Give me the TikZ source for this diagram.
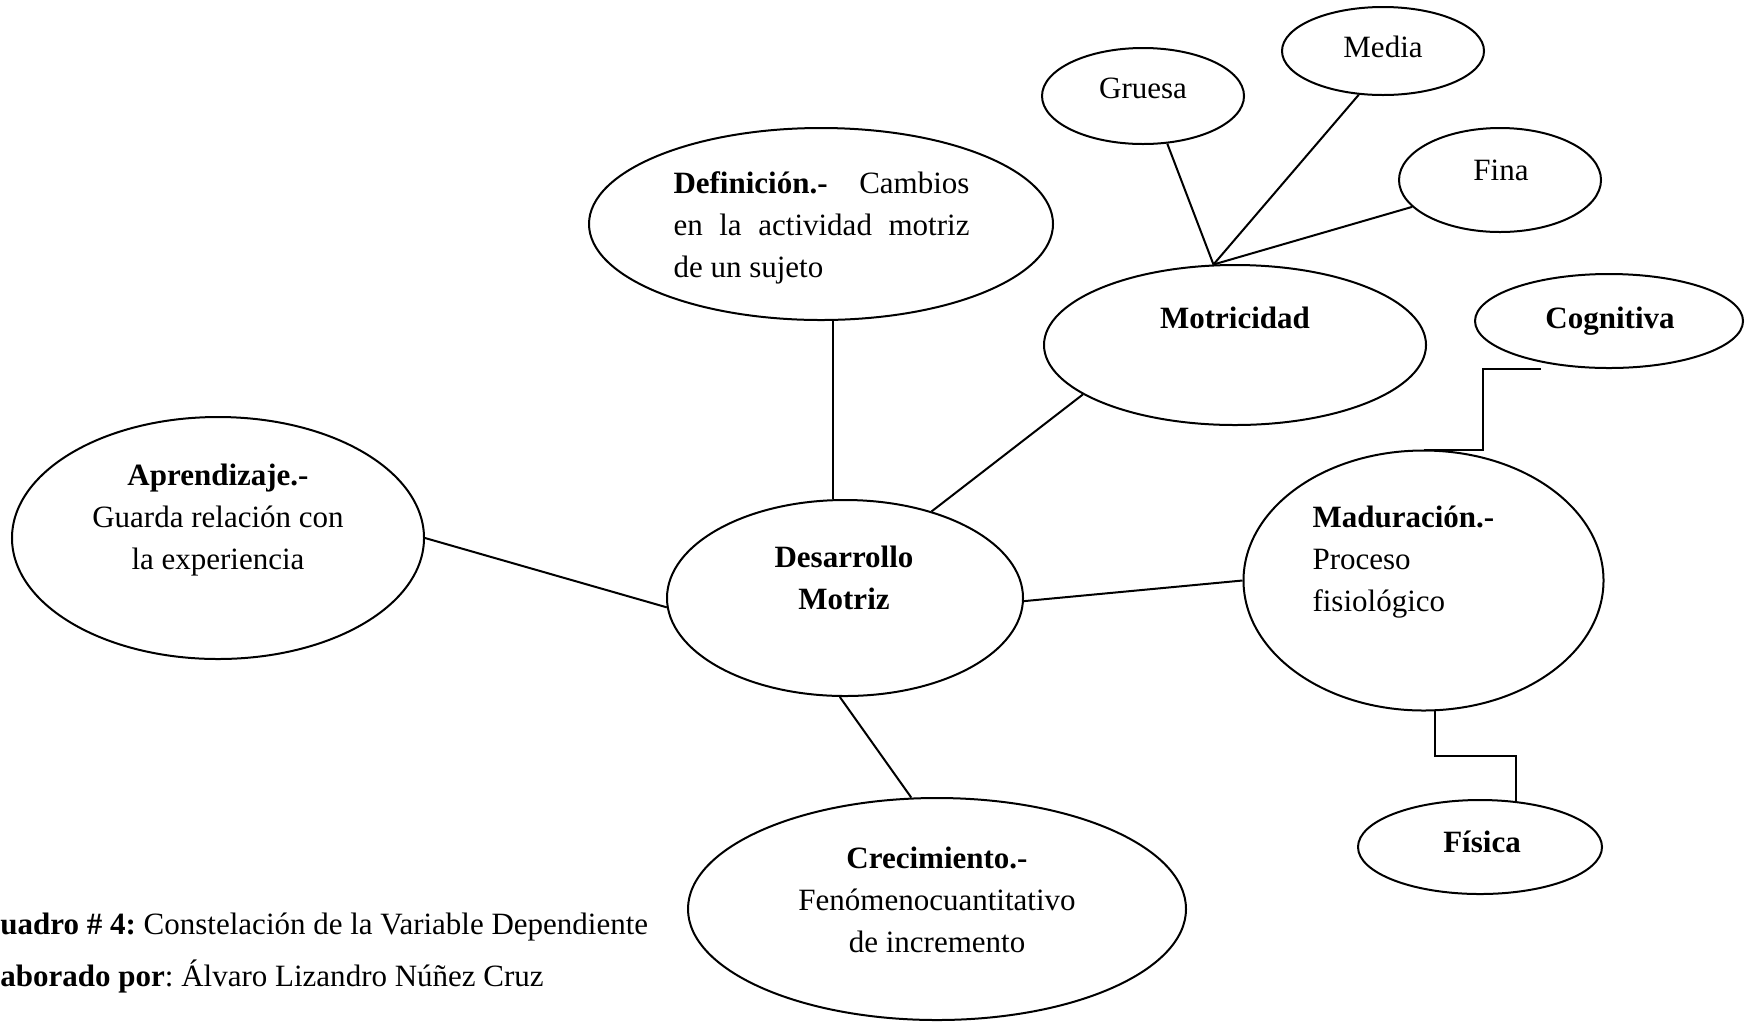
\documentclass[tikz,border=0pt]{standalone}
\usepackage{fontspec}
\setmainfont{Liberation Serif}
\usetikzlibrary{shapes.geometric}
\frenchspacing
\begin{document}
\begin{tikzpicture}[x=0.4pt,y=-0.4pt,
  bubble/.style={draw, ellipse, line width=0.8pt, inner sep=0pt},
  link/.style={line width=0.8pt},
  txt/.style={inner sep=0pt, font=\fontsize{12.4}{16.8}\selectfont},
  btxt/.style={txt, font=\fontsize{12.4}{16.8}\selectfont\bfseries}]
\useasboundingbox (0,0) rectangle (1750,1021);
\clip (0,0) rectangle (1750,1021);

% ellipses
\node[bubble, minimum width=142.4pt, minimum height=78.4pt] (des) at (845,598) {};
\node[bubble, minimum width=185.6pt, minimum height=76.8pt] (def) at (821,224) {};
\node[bubble, minimum width=164.8pt, minimum height=96.8pt] (apr) at (218,538) {};
\node[bubble, minimum width=199.2pt, minimum height=88.8pt] (cre) at (937,909) {};
\node[bubble, minimum width=144pt, minimum height=104pt] (mad) at (1423.5,580.5) {};
\node[bubble, minimum width=152.8pt, minimum height=64pt] (mot) at (1235,345) {};
\node[bubble, minimum width=107.2pt, minimum height=37.6pt] (cog) at (1609,321) {};
\node[bubble, minimum width=97.6pt, minimum height=37.6pt] (fis) at (1480,847) {};
\node[bubble, minimum width=80.8pt, minimum height=38.4pt] (gru) at (1143,96) {};
\node[bubble, minimum width=80.8pt, minimum height=35.2pt] (med) at (1383,51) {};
\node[bubble, minimum width=80.8pt, minimum height=41.6pt] (fin) at (1500,180) {};

% texts
\node[btxt, anchor=base] (destxt) at (844,567)
  {\parbox[t]{120pt}{\centering Desarrollo\\Motriz}};
\node[txt, anchor=base west] (deftxt) at (673,193)
  {\parbox[t]{118.4pt}{\makebox[118.4pt][s]{\textbf{Definición.-}\hfill Cambios}\\
   \makebox[118.4pt][s]{en\hfill la\hfill actividad\hfill motriz}\\
   de un sujeto}};
\node[txt, anchor=base] (aprtxt) at (218,485)
  {\parbox[t]{150pt}{\centering\textbf{Aprendizaje.-}\\Guarda relación con\\la experiencia}};
\node[txt, anchor=base] (cretxt) at (937,868)
  {\parbox[t]{160pt}{\centering\textbf{Crecimiento.-}\\Fenómenocuantitativo\\de incremento}};
\node[txt, anchor=base west] (madtxt) at (1312,527)
  {\parbox[t]{110pt}{\raggedright\textbf{Maduración.-}\\Proceso\\fisiológico}};
\node[btxt, anchor=base] (mottxt) at (1235,328) {Motricidad};
\node[btxt, anchor=base] (cogtxt) at (1610,328) {Cognitiva};
\node[btxt, anchor=base] (fistxt) at (1482,852) {Física};
\node[txt, anchor=base] (grutxt) at (1143,98) {Gruesa};
\node[txt, anchor=base] (medtxt) at (1383,57) {Media};
\node[txt, anchor=base] (fintxt) at (1501,180) {Fina};

% connectors from the centre
\draw[link] (des.97.6) -- (des.97.6 |- def.south);
\draw[link] (des.45.7) -- (mot.198.2);
\draw[link] (des.183.2) -- (apr.east);
\draw[link] (des.-1.3) -- (mad.west);
\draw[link] (des.267.7) -- (cre.103.7);

% kinds of motor skill
\draw[link] (gru.297.5) -- (mot.105);
\draw[link] (med.241.9) -- (mot.105);
\draw[link] (fin.197.2) -- (mot.105);

% elbow connectors of maturation
\coordinate (cogjog) at (1483,369);
\coordinate (cogfoot) at (1541,369);
\draw[link] (mad.north) -| (cogjog) -- (cogfoot);
\draw[link] (mad.275.9) -- ++(0,45) -| (fis.52);

% caption
\node[txt, anchor=base west] (cap1) at (-22.4,934)
  {\textbf{Cuadro \# 4:} Constelación de la Variable Dependiente};
\node[txt, anchor=base west] (cap2) at (-29.3,986)
  {\textbf{Elaborado por}: Álvaro Lizandro Núñez Cruz};
\end{tikzpicture}
\end{document}
